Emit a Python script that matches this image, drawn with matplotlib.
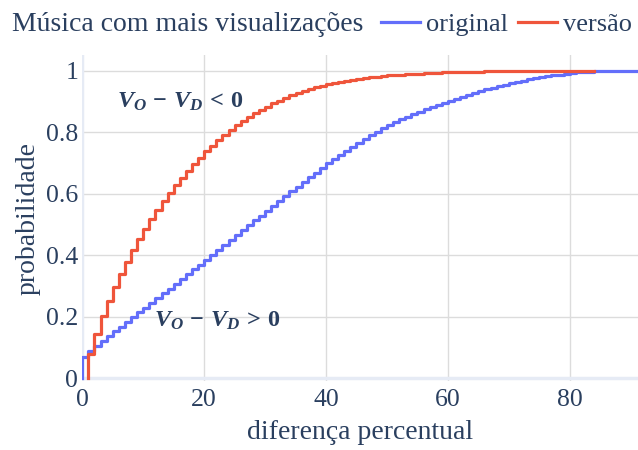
import numpy as np
import matplotlib
matplotlib.use('Agg')
import matplotlib.pyplot as plt

plt.rcParams['font.family'] = ['Liberation Serif', 'DejaVu Serif']
plt.rcParams['mathtext.fontset'] = 'custom'
plt.rcParams['mathtext.it'] = 'Liberation Serif:bold:italic'
plt.rcParams['mathtext.rm'] = 'Liberation Serif:bold'
plt.rcParams['mathtext.bf'] = 'Liberation Serif:bold'

# ecdf of the percentual difference, one value per integer percent
original_x = list(range(0, 92))
original_p = [
    0.070, 0.089, 0.105, 0.120, 0.136, 0.152, 0.167, 0.183, 0.198, 0.214,
    0.229, 0.245, 0.260, 0.276, 0.291, 0.307, 0.323, 0.338, 0.354, 0.369,
    0.385, 0.401, 0.417, 0.433, 0.449, 0.465, 0.481, 0.497, 0.513, 0.529,
    0.545, 0.561, 0.577, 0.593, 0.608, 0.623, 0.639, 0.654, 0.669, 0.684,
    0.699, 0.713, 0.727, 0.740, 0.753, 0.765, 0.777, 0.790, 0.801, 0.813,
    0.824, 0.833, 0.842, 0.851, 0.859, 0.867, 0.875, 0.882, 0.889, 0.896,
    0.903, 0.909, 0.916, 0.922, 0.929, 0.935, 0.940, 0.945, 0.950, 0.955,
    0.960, 0.964, 0.968, 0.972, 0.976, 0.979, 0.982, 0.985, 0.988, 0.991,
    0.993, 0.995, 0.996, 0.997, 0.998, 0.9985, 0.999, 0.9995, 0.9997, 0.9998,
    0.9999, 1.000,
]

versao_x = list(range(1, 85))
versao_p = [
    0.080, 0.145, 0.203, 0.252, 0.297, 0.339, 0.379, 0.417, 0.452, 0.485,
    0.517, 0.548, 0.576, 0.603, 0.628, 0.652, 0.675, 0.697, 0.718, 0.738,
    0.757, 0.775, 0.792, 0.808, 0.823, 0.837, 0.850, 0.862, 0.873, 0.884,
    0.894, 0.903, 0.912, 0.920, 0.927, 0.934, 0.940, 0.946, 0.951, 0.956,
    0.960, 0.964, 0.968, 0.971, 0.974, 0.977, 0.979, 0.981, 0.983, 0.985,
    0.987, 0.988, 0.989, 0.990, 0.991, 0.992, 0.993, 0.994, 0.995, 0.9955,
    0.996, 0.9965, 0.997, 0.9973, 0.9976, 0.998, 0.9982, 0.9984, 0.9986, 0.9988,
    0.999, 0.9991, 0.9992, 0.9993, 0.9994, 0.9995, 0.9996, 0.9997, 0.9998, 0.9998,
    0.9999, 0.9999, 0.9999, 1.000,
]

x_ticks = [0, 20, 40, 60, 80]
y_ticks = [0, 0.2, 0.4, 0.6, 0.8, 1]
y_tick_labels = ['0', '0.2', '0.4', '0.6', '0.8', '1']

text_color = '#2a3f5f'
blue = '#636efa'
red = '#ef553b'

fig = plt.figure(figsize=(6.38, 4.5), dpi=100)
ax = fig.add_axes([0.129, 0.153, 0.871, 0.725])

for xs, ps, color, name in [(original_x, original_p, blue, 'original'),
                            (versao_x, versao_p, red, 'versão')]:
    ax.step([xs[0]] + xs, [0] + ps, where='post', color=color, lw=2.3,
            label=name, zorder=3)

ax.set_xlim(0, 91.2)
ax.set_ylim(-0.01, 1.052)
ax.set_xticks(x_ticks)
ax.set_yticks(y_ticks)
ax.set_yticklabels(y_tick_labels)
ax.grid(color='#dcdcdc', lw=1)
ax.set_axisbelow(True)
ax.axhline(0, color='#e6ebf5', lw=2.5, zorder=1)
ax.axvline(0, color='#e6ebf5', lw=2.5, zorder=1)
for s in ax.spines.values():
    s.set_visible(False)
ax.tick_params(length=0, labelsize=18.5, colors=text_color)
ax.tick_params(axis='x', pad=6)
ax.tick_params(axis='y', pad=3)

ax.set_xlabel('diferença percentual', fontsize=20, color=text_color, labelpad=6)
ax.set_ylabel('probabilidade', fontsize=20, color=text_color, labelpad=4)

ax.text(16.0, 0.90, r'$V_O\,-\,V_D\,<\,0$', fontsize=17.5, color=text_color,
        ha='center', va='center')
ax.text(22.2, 0.186, r'$V_O\,-\,V_D\,>\,0$', fontsize=17.5, color=text_color,
        ha='center', va='center')

fig.text(0.019, 0.945, 'Música com mais visualizações', fontsize=20,
         color=text_color, ha='left', va='center')
leg = fig.legend(loc='center left', bbox_to_anchor=(0.597, 0.945), ncol=2,
                 frameon=False, fontsize=19, handlelength=1.5,
                 handletextpad=0.22, columnspacing=0.35, borderpad=0,
                 borderaxespad=0)
for t in leg.get_texts():
    t.set_color(text_color)

fig.savefig('out.png', dpi=100)
